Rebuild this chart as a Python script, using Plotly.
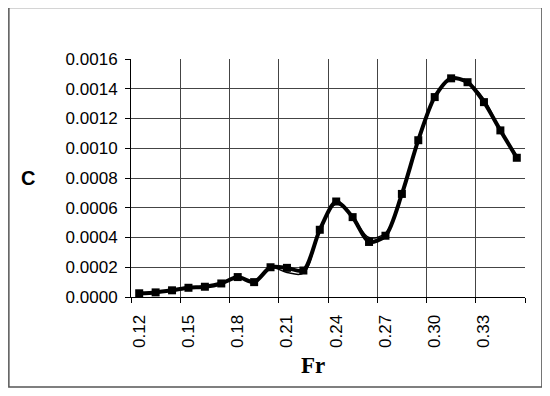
import plotly.graph_objects as go

fr = ["0.12", "0.13", "0.14", "0.15", "0.16", "0.17", "0.18", "0.19", "0.20", "0.21", "0.22", "0.23",
      "0.24", "0.25", "0.26", "0.27", "0.28", "0.29", "0.30", "0.31", "0.32", "0.33", "0.34", "0.35"]
c_meas = [0.000025, 0.000031, 0.000045, 0.000062, 0.000069, 0.000091, 0.000134, 0.000100,
          0.000200, 0.000196, 0.000178, 0.000452, 0.000642, 0.000537, 0.000370, 0.000412,
          0.000693, 0.001054, 0.001344, 0.001470, 0.001444, 0.001310, 0.001120, 0.000936]
c_fit = [0.000025, 0.000031, 0.000045, 0.000062, 0.000069, 0.000091, 0.000134, 0.000100,
         0.000200, 0.000165, 0.000160, 0.000452, 0.000625, 0.000537, 0.000400, 0.000430,
         0.000693, 0.001054, 0.001344, 0.001470, 0.001444, 0.001330, 0.001120, 0.000950]
tick_labels = ["0.12", "0.15", "0.18", "0.21", "0.24", "0.27", "0.30", "0.33"]

x = list(range(len(fr)))
tickpos = [fr.index(t) for t in tick_labels]

fig = go.Figure()
fig.add_trace(go.Scatter(x=x, y=c_meas, mode="lines+markers",
                         line=dict(color="black", width=4, shape="spline", smoothing=0.8),
                         marker=dict(symbol="square", size=8, color="black")))
fig.add_trace(go.Scatter(x=x, y=c_fit, mode="lines",
                         line=dict(color="black", width=1.5, shape="spline", smoothing=1)))

font = dict(family="Arial, Liberation Sans", size=17, color="black")
# page body has an 8px margin, so the margins are shifted to compensate
fig.update_layout(
    width=550, height=396, showlegend=False,
    paper_bgcolor="white", plot_bgcolor="white",
    margin=dict(l=123, r=33, t=51, b=107),
    font=font,
)
fig.update_xaxes(range=[-0.5, 23.5], tickmode="array", tickvals=tickpos, ticktext=tick_labels,
                 tickangle=-90, ticks="", showgrid=False, ticklabelstandoff=10,
                 showline=True, linecolor="black", linewidth=1, mirror=False, zeroline=False,
                 minor=dict(tickmode="array", tickvals=[-0.5 + 3 * k for k in range(9)],
                            showgrid=True, gridcolor="#444", gridwidth=1,
                            ticks="outside", ticklen=5, tickcolor="black"))
fig.update_yaxes(range=[0, 0.0016], dtick=0.0002, tickformat=".4f",
                 ticks="outside", ticklen=5, tickcolor="black", ticklabelstandoff=4,
                 showgrid=True, gridcolor="#444", gridwidth=1,
                 showline=True, linecolor="black", linewidth=1, zeroline=False)

fig.add_annotation(text="<b>C</b>", xref="paper", yref="paper", x=-0.262, y=0.5,
                   xanchor="center", yanchor="middle", showarrow=False,
                   font=dict(family="Arial, Liberation Sans", size=20, color="black"))
fig.add_annotation(text="<b>Fr</b>", xref="paper", yref="paper", x=0.462, y=-0.286,
                   xanchor="center", yanchor="middle", showarrow=False,
                   font=dict(family="Times New Roman, Liberation Serif", size=23, color="black"))
fig.add_shape(type="rect", xref="paper", yref="paper", x0=-0.31, x1=1.043, y0=-0.378, y1=1.216,
              line=dict(color="#555", width=1.5))

fig.write_html("out.html")
